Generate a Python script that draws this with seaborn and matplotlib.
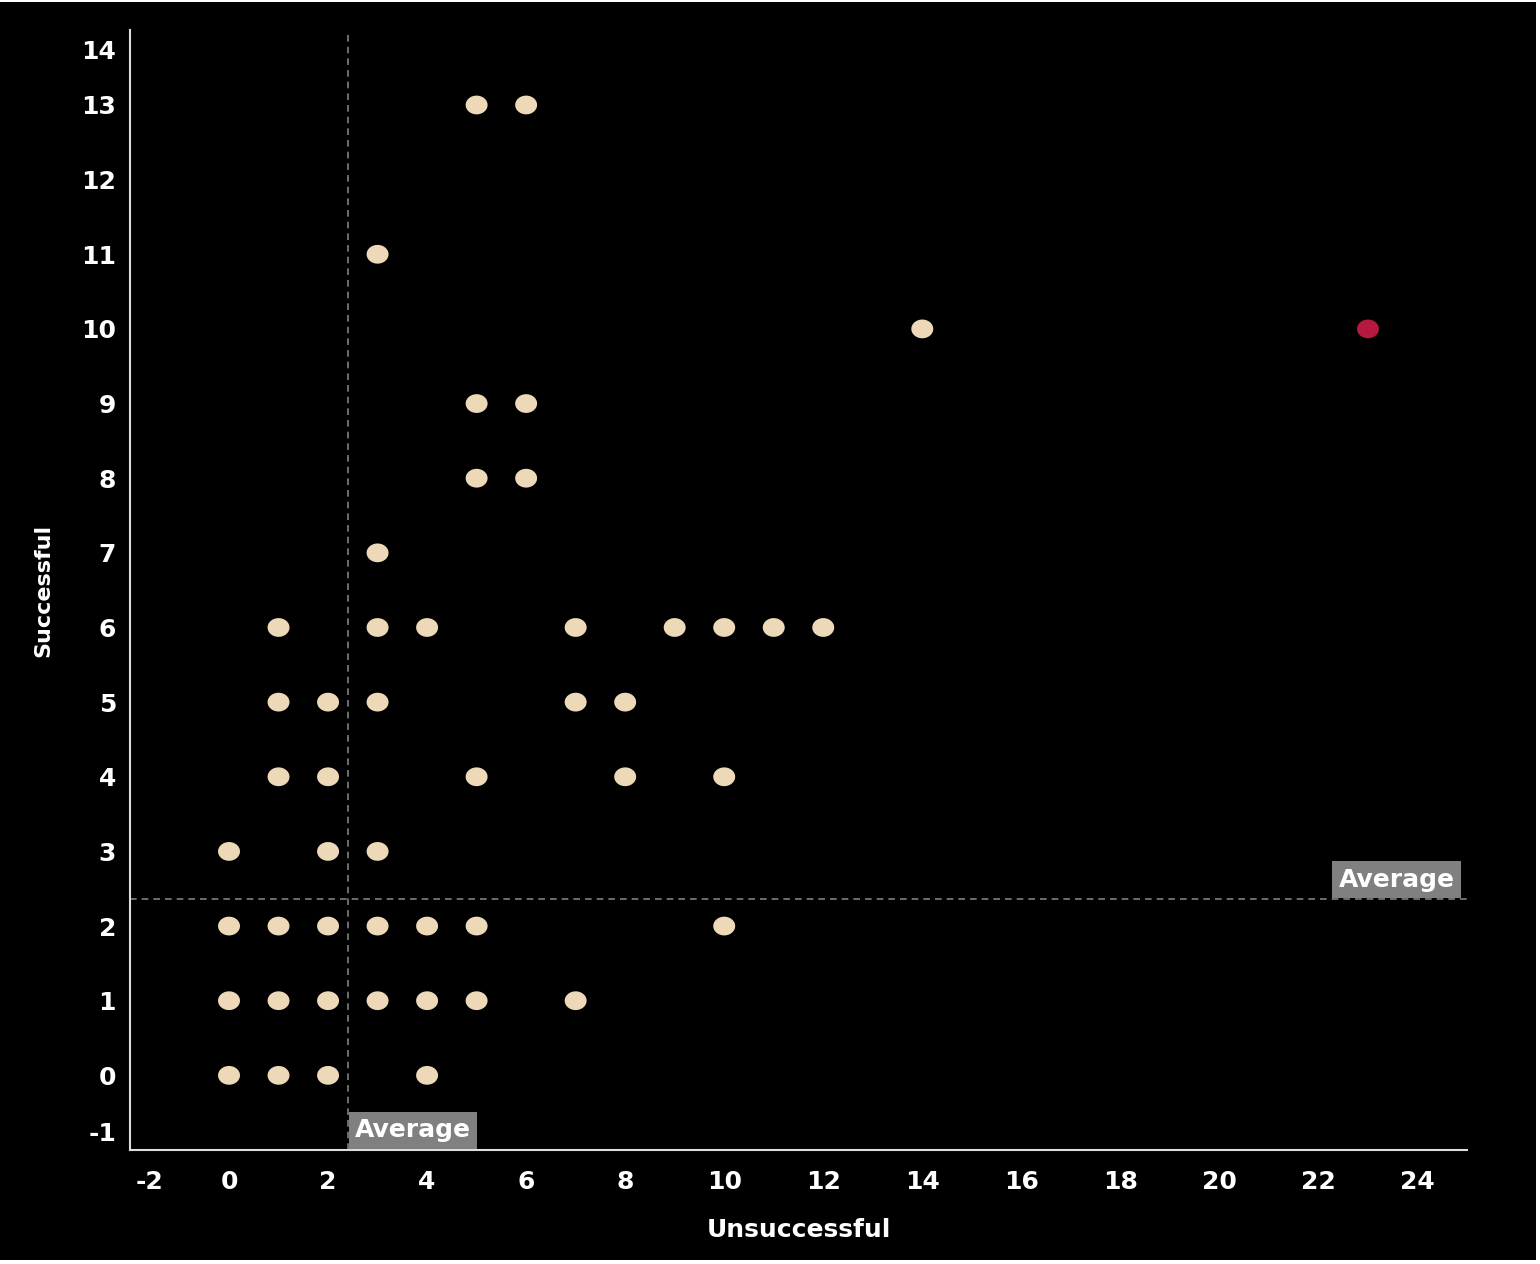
import numpy as np
import pandas as pd
import matplotlib
matplotlib.use("Agg")
import matplotlib.pyplot as plt
from matplotlib.path import Path
from matplotlib.transforms import ScaledTranslation
import seaborn as sns

# data: (unsuccessful, successful)
unsuccessful = [5, 6, 3, 14, 5, 6, 5, 6, 3,
                1, 3, 4, 7, 9, 10, 11, 12,
                1, 2, 3, 7, 8,
                1, 2, 5, 8, 10,
                0, 2, 3,
                0, 1, 2, 3, 4, 5, 10,
                0, 1, 2, 3, 4, 5, 7,
                0, 1, 2, 4]
successful = [13, 13, 11, 10, 9, 9, 8, 8, 7,
              6, 6, 6, 6, 6, 6, 6, 6,
              5, 5, 5, 5, 5,
              4, 4, 4, 4, 4,
              3, 3, 3,
              2, 2, 2, 2, 2, 2, 2,
              1, 1, 1, 1, 1, 1, 1,
              0, 0, 0, 0]
highlight_x = [23]
highlight_y = [10]
avg_unsuccessful = 2.4
avg_successful = 2.36
x_ticks = list(range(-2, 25, 2))
y_ticks = list(range(-1, 15))

df = pd.DataFrame({"Unsuccessful": unsuccessful, "Successful": successful})
df_hi = pd.DataFrame({"Unsuccessful": highlight_x, "Successful": highlight_y})

sns.set_theme(style="dark")
plt.rcParams['font.family'] = ['DejaVu Sans']

fig = plt.figure(figsize=(15.4, 12.64), dpi=100, facecolor="white")
# black panel with thin white frame on top/right/bottom
fig.patches.append(plt.Rectangle((0.0, 4 / 1264), 1536 / 1540, 1258 / 1264,
                                 transform=fig.transFigure,
                                 facecolor="black", edgecolor="none", zorder=-10))
ax = fig.add_axes([0.0844, 0.0902, 0.8682, 0.8858])
ax.set_facecolor("black")

# ellipse marker
t = np.linspace(0, 2 * np.pi, 60)
ell = Path(np.column_stack([1.17 * np.cos(t), np.sin(t)]), closed=True)

sns.scatterplot(data=df, x="Unsuccessful", y="Successful", ax=ax, marker=ell,
                s=250, color="#EDD9B8", edgecolor="none", linewidth=0, zorder=3)
sns.scatterplot(data=df_hi, x="Unsuccessful", y="Successful", ax=ax, marker=ell,
                s=250, color="#B5193F", edgecolor="none", linewidth=0, zorder=3)

ax.axvline(avg_unsuccessful, color="#808080", lw=1.2, ls=(0, (4, 3)), zorder=1)
ax.axhline(avg_successful, color="#808080", lw=1.2, ls=(0, (4, 3)), zorder=1)

ax.set_xlim(-2, 25)
ax.set_ylim(-1, 14)
ax.set_xticks(x_ticks)
ax.set_yticks(y_ticks)
ax.set_xticklabels([str(v) for v in x_ticks])
ax.set_yticklabels([str(v) for v in y_ticks])
ax.tick_params(axis="both", colors="white", labelsize=18, length=0)
ax.tick_params(axis="x", pad=14.5)
ax.tick_params(axis="y", pad=10)
for lab in ax.get_xticklabels() + ax.get_yticklabels():
    lab.set_fontweight("bold")
    lab.set_color("white")

# nudge the edge tick labels inward, as in the reference
xl0 = ax.get_xticklabels()[0]
xl0.set_transform(xl0.get_transform() + ScaledTranslation(20 / 100, 0, fig.dpi_scale_trans))
yl0 = ax.get_yticklabels()[0]
yl0.set_transform(yl0.get_transform() + ScaledTranslation(0, 18 / 100, fig.dpi_scale_trans))
ylN = ax.get_yticklabels()[-1]
ylN.set_transform(ylN.get_transform() + ScaledTranslation(0, -19 / 100, fig.dpi_scale_trans))

ax.set_xlabel("Unsuccessful", color="white", fontsize=18, fontweight="bold", labelpad=17)
ax.set_ylabel("Successful", color="white", fontsize=16, fontweight="bold", labelpad=20)

for side in ["top", "right"]:
    ax.spines[side].set_visible(False)
for side in ["left", "bottom"]:
    ax.spines[side].set_visible(True)
    ax.spines[side].set_color("#DDDDDD")
    ax.spines[side].set_linewidth(1.5)
ax.grid(False)

bbox = dict(boxstyle="square,pad=0.25", facecolor="#808080", edgecolor="none")
ax.annotate("Average", xy=(avg_unsuccessful, -1), xytext=(5, 5.5),
            textcoords="offset points", color="white", fontsize=18,
            fontweight="bold", ha="left", va="bottom", bbox=bbox, zorder=4)
ax.annotate("Average", xy=(25, avg_successful), xytext=(-9, 5.5),
            textcoords="offset points", color="white", fontsize=18,
            fontweight="bold", ha="right", va="bottom", bbox=bbox, zorder=4)

fig.savefig("out.png", dpi=100, facecolor="white")
